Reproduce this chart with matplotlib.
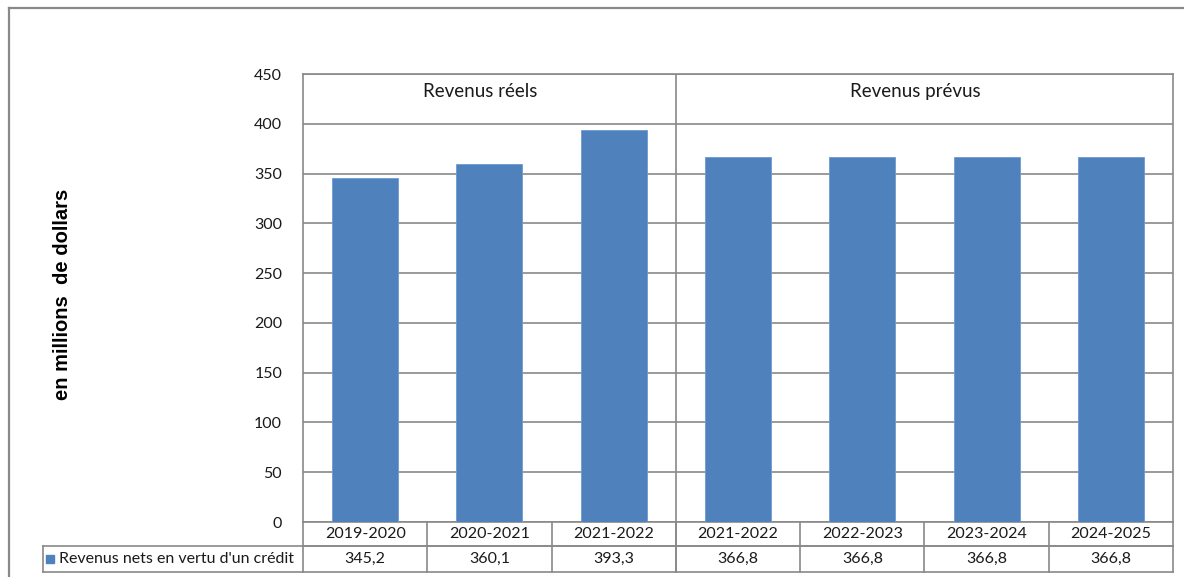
import matplotlib
matplotlib.use("Agg")
import matplotlib.pyplot as plt
from matplotlib.lines import Line2D

# Data
categories = ["2019-2020", "2020-2021", "2021-2022", "2021-2022",
              "2022-2023", "2023-2024", "2024-2025"]
revenus = [345.2, 360.1, 393.3, 366.8, 366.8, 366.8, 366.8]
value_labels = ["345,2", "360,1", "393,3", "366,8", "366,8", "366,8", "366,8"]
groups = ["Revenus réels", "Revenus prévus"]
group_split = 3  # first 3 categories are actual, the rest forecast
series_name = "Revenus nets en vertu d'un crédit"

W, H = 1184, 577
BLUE = "#4F81BD"
GRID = "#898989"
TXT = "#1a1a1a"
FONT = "Lato"

fig = plt.figure(figsize=(W / 100, H / 100), dpi=100)

# plot area in pixel coords of reference
px_left, px_right, px_top, px_bottom = 303, 1173, 74, 522
ax = fig.add_axes([px_left / W, 1 - px_bottom / H,
                   (px_right - px_left) / W, (px_bottom - px_top) / H])

x = list(range(len(categories)))
ax.bar(x, revenus, width=0.53, color=BLUE, edgecolor="#6f9bd0", linewidth=0.6, zorder=3)
ax.set_xlim(-0.5, len(categories) - 0.5)
ax.set_ylim(0, 450)
ax.set_yticks(range(0, 451, 50))
ax.set_yticklabels([str(v) for v in range(0, 451, 50)], fontsize=11.5,
                   family=FONT, color=TXT)
ax.tick_params(axis="y", length=0, pad=15)
ax.set_xticks([])
ax.yaxis.grid(True, color=GRID, linewidth=1.2, zorder=0)
for s in ax.spines.values():
    s.set_color(GRID)
    s.set_linewidth(1.2)

# group separator + group headers
ax.axvline(group_split - 0.5, color=GRID, linewidth=1.2, zorder=1)
ax.text((group_split - 1) / 2 - 0.075, 432, groups[0], ha="center", va="center",
        fontsize=13.5, family=FONT, color=TXT)
ax.text((group_split + len(categories) - 1) / 2 - 0.075, 432, groups[1],
        ha="center", va="center", fontsize=13.5, family=FONT, color=TXT)

# y label
fig.text(62 / W, 1 - 294 / H, "en millions  de dollars", rotation=90,
         ha="center", va="center", fontsize=14.5, fontweight="bold",
         family="Liberation Sans", color="black")

# data table under the axes
plot_h = px_bottom - px_top
row1 = -24 / plot_h
row2 = -50 / plot_h
tr = ax.get_xaxis_transform()
lw = 1.2
left_cell = (43 - px_left) / ((px_right - px_left) / len(categories)) - 0.5
n = len(categories)

def hline(x0, x1, y):
    ax.add_line(Line2D([x0, x1], [y, y], transform=tr, color=GRID, lw=lw, clip_on=False))

def vline(xv, y0, y1):
    ax.add_line(Line2D([xv, xv], [y0, y1], transform=tr, color=GRID, lw=lw, clip_on=False))

hline(-0.5, n - 0.5, row1)
hline(left_cell, n - 0.5, row1)
hline(left_cell, n - 0.5, row2)
vline(left_cell, row1, row2)
for i in range(n + 1):
    vline(i - 0.5, 0, row2)
vline(group_split - 0.5, 0, row2)

for i, (cat, lab) in enumerate(zip(categories, value_labels)):
    ax.text(i, row1 / 2, cat, transform=tr, ha="center", va="center",
            fontsize=11.5, family=FONT, color=TXT, clip_on=False)
    ax.text(i, (row1 + row2) / 2, lab, transform=tr, ha="center", va="center",
            fontsize=11.5, family=FONT, color=TXT, clip_on=False)

ax.plot([left_cell + 0.06], [(row1 + row2) / 2], marker="s", markersize=6,
        color=BLUE, transform=tr, clip_on=False)
ax.text(left_cell + 0.13, (row1 + row2) / 2, series_name, transform=tr,
        ha="left", va="center", fontsize=11.5, family=FONT, color=TXT, clip_on=False)

# outer chart frame (top and left edges visible)
fig.add_artist(Line2D([9 / W, 1], [1 - 8 / H, 1 - 8 / H], color=GRID, lw=1.6))
fig.add_artist(Line2D([9 / W, 9 / W], [1 - 8 / H, 0], color=GRID, lw=1.6))

fig.savefig("out.png", dpi=100, facecolor="white")
